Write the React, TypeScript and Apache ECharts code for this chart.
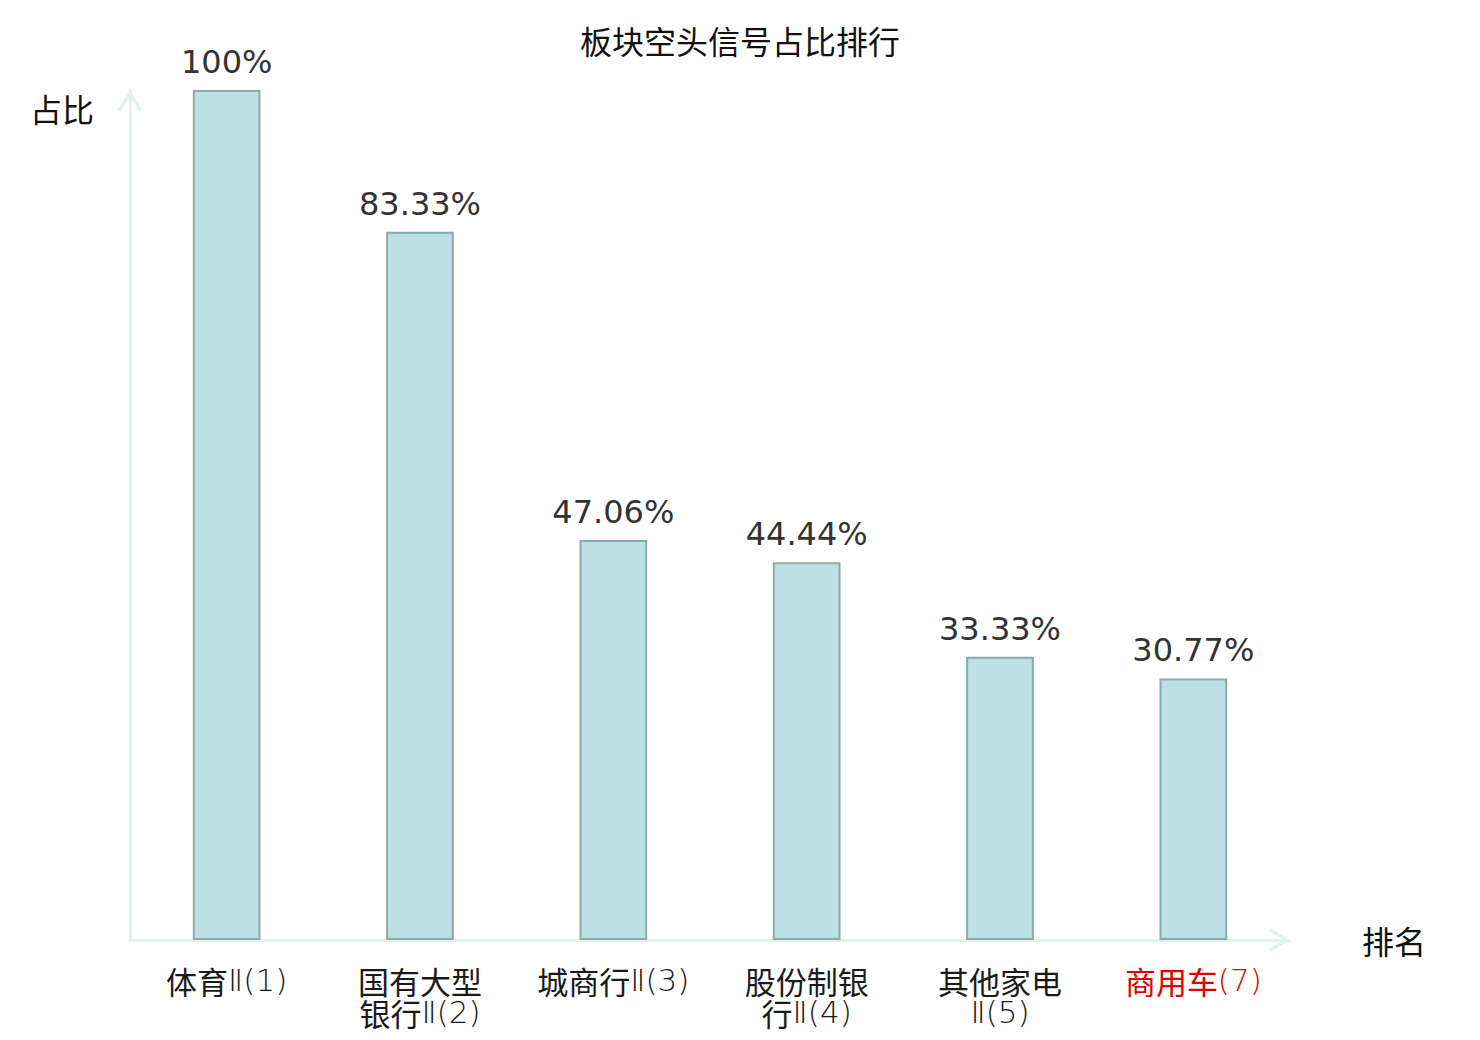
import React, { useEffect, useRef } from "react";
import * as echarts from "echarts";

const title = "板块空头信号占比排行";
const categories = ["体育Ⅱ(1)", "国有大型\n银行Ⅱ(2)", "城商行Ⅱ(3)", "股份制银\n行Ⅱ(4)", "其他家电\nⅡ(5)", "商用车(7)"];
const values = [100, 83.33, 47.06, 44.44, 33.33, 30.77];
const labelColors = ["#1a1a1a", "#1a1a1a", "#1a1a1a", "#1a1a1a", "#1a1a1a", "#e00000"];
const yName = "占比";
const xName = "排名";

const FONT = "'DejaVu Sans', 'Noto Sans CJK SC', sans-serif";
const CJK = "'Noto Sans CJK SC', 'DejaVu Sans', sans-serif";
const LATIN_THIN = "'DejaVu Sans', sans-serif";
const CHEVRON = "path://M0,19 L12,0 L24,19 L21.4,21 L12,5.6 L2.6,21 Z";

export default function App() {
  const ref = useRef<HTMLDivElement>(null);
  useEffect(() => {
    const chart = echarts.init(ref.current!, undefined, { renderer: "svg" });
    const axisLine = {
      show: true,
      symbol: ["none", CHEVRON],
      symbolSize: [24, 22],
      symbolOffset: [0, -11],
      lineStyle: { color: "#dff2ef", width: 3 },
    };
    chart.setOption({
      animation: false,
      backgroundColor: "#ffffff",
      textStyle: { fontFamily: FONT },
      title: {
        text: title,
        left: "center",
        top: 19,
        textStyle: { fontSize: 32, fontWeight: "normal", color: "#111", fontFamily: CJK },
      },
      grid: { left: 130, right: 190, top: 90, bottom: 100 },
      xAxis: {
        type: "category",
        data: categories,
        name: xName,
        nameLocation: "end",
        nameGap: 72,
        nameTextStyle: { fontSize: 32, color: "#111", fontFamily: CJK },
        axisLine,
        axisTick: { show: false },
        axisLabel: {
          fontSize: 31,
          lineHeight: 32,
          margin: 24,
          fontFamily: CJK,
          interval: 0,
          color: (_v: any, i: number) => labelColors[i],
          formatter: (v: string) => v.replace(/([Ⅱ(][^\n]*)/g, "{l|$1}"),
          rich: {
            l: { fontFamily: LATIN_THIN, fontWeight: 200, fontSize: 31, lineHeight: 32 },
          },
        },
      },
      yAxis: {
        type: "value",
        min: 0,
        max: 100,
        axisLine,
        axisTick: { show: false },
        axisLabel: { show: false },
        splitLine: { show: false },
      },
      graphic: [
        {
          type: "text",
          left: 30,
          top: 92,
          style: { text: yName, fontSize: 32, fill: "#111", fontFamily: CJK },
        },
      ],
      series: [
        {
          type: "bar",
          data: values,
          barWidth: "35%",
          itemStyle: { color: "#bce0e3", borderColor: "#8aa9aa", borderWidth: 2 },
          label: {
            show: true,
            position: "top",
            distance: 12,
            fontSize: 32,
            color: "#333",
            fontFamily: FONT,
            formatter: (p: any) => p.value + "%",
          },
        },
      ],
    });
    return () => chart.dispose();
  }, []);
  return (
    <div
      ref={ref}
      style={{ position: "fixed", left: 0, top: 0, width: 1480, height: 1040 }}
    />
  );
}
